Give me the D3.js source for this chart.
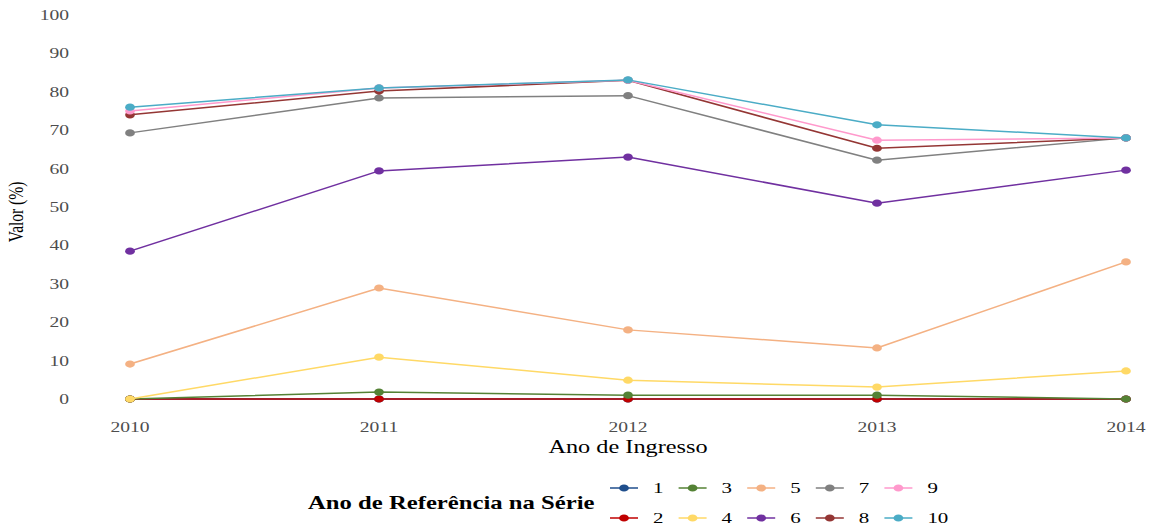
<!DOCTYPE html>
<html>
<head>
<meta charset="utf-8">
<script src="https://cdn.jsdelivr.net/npm/d3@7"></script>
<style>
  body { margin: 0; background: #fff; }
  text { font-family: "Liberation Serif", "DejaVu Serif", serif; }
</style>
</head>
<body>
<svg></svg>
<script>
var width = 1156;
var height = 528;
var stretch = 1.35;   // the source picture is widened horizontally

var years = [2010, 2011, 2012, 2013, 2014];
var seriesNames = ["1", "2", "3", "4", "5", "6", "7", "8", "9", "10"];
var colors = ["#1f4e8c", "#c00000", "#548235", "#ffd966", "#f4b183",
              "#7030a0", "#808080", "#943634", "#ff99cc", "#4bacc6"];
var values = [
  [0, 0, 0, 0, 0],
  [0, 0, 0, 0, 0],
  [0, 1.8, 1.0, 1.0, 0],
  [0, 10.9, 4.9, 3.1, 7.3],
  [9.1, 28.9, 18.0, 13.3, 35.7],
  [38.5, 59.4, 63.0, 51.0, 59.6],
  [69.3, 78.4, 79.0, 62.2, 68.0],
  [74.0, 80.2, 83.0, 65.3, 68.0],
  [75.0, 81.0, 83.0, 67.4, 68.0],
  [76.0, 81.0, 83.1, 71.4, 68.0]
];
var yTicks = [0, 10, 20, 30, 40, 50, 60, 70, 80, 90, 100];

var svg = d3.select("svg")
    .attr("width", width)
    .attr("height", height);

var g = svg.append("g")
    .attr("transform", `scale(${stretch},1)`);

var x = d3.scaleLinear()
    .domain([2010, 2014])
    .range([130 / stretch, 1126 / stretch]);

var y = d3.scaleLinear()
    .domain([0, 100])
    .range([399, 15]);

// y tick labels
g.append("g")
  .selectAll("text")
  .data(yTicks)
  .enter()
  .append("text")
    .attr("x", 69 / stretch)
    .attr("y", d => y(d))
    .attr("dy", "0.35em")
    .style("text-anchor", "end")
    .style("font-size", "14.5px")
    .style("fill", "#4d4d4d")
    .text(d => d);

// x tick labels
g.append("g")
  .selectAll("text")
  .data(years)
  .enter()
  .append("text")
    .attr("x", d => x(d))
    .attr("y", 432)
    .style("text-anchor", "middle")
    .style("font-size", "14.5px")
    .style("fill", "#4d4d4d")
    .text(d => d);

g.append("text")
    .attr("x", 628 / stretch)
    .attr("y", 453)
    .style("text-anchor", "middle")
    .style("font-size", "18px")
    .text("Ano de Ingresso");

g.append("text")
    .attr("transform", `translate(${23 / stretch}, 212) rotate(-90)`)
    .style("text-anchor", "middle")
    .style("font-size", "15.5px")
    .text("Valor (%)");

var line = d3.line()
    .x((d, i) => x(years[i]))
    .y(d => y(d));

var series = g.append("g")
  .selectAll("g")
  .data(values)
  .enter()
  .append("g");

series.append("path")
    .attr("d", line)
    .attr("fill", "none")
    .attr("stroke", (d, i) => colors[i])
    .attr("stroke-width", 1.5);

series.each(function(vals, i) {
  d3.select(this)
    .selectAll("circle")
    .data(vals)
    .enter()
    .append("circle")
      .attr("cx", (d, j) => x(years[j]))
      .attr("cy", d => y(d))
      .attr("r", 3.6)
      .attr("fill", colors[i]);
});

// legend
g.append("text")
    .attr("x", 308 / stretch)
    .attr("y", 509)
    .style("font-size", "18.3px")
    .style("font-weight", "bold")
    .text("Ano de Referência na Série");

var legend = g.append("g")
  .selectAll("g")
  .data(seriesNames)
  .enter()
  .append("g")
    .attr("transform", (d, i) => {
      var col = Math.floor(i / 2);
      var row = i % 2;
      return `translate(${(610 + col * 68.6) / stretch}, ${488 + row * 30})`;
    });

legend.append("line")
    .attr("x1", 0)
    .attr("x2", 28 / stretch)
    .attr("stroke", (d, i) => colors[i])
    .attr("stroke-width", 1.5);

legend.append("circle")
    .attr("cx", 14 / stretch)
    .attr("r", 3.6)
    .attr("fill", (d, i) => colors[i]);

legend.append("text")
    .attr("x", 43 / stretch)
    .attr("dy", "0.35em")
    .style("font-size", "15.5px")
    .text(d => d);
</script>
</body>
</html>
